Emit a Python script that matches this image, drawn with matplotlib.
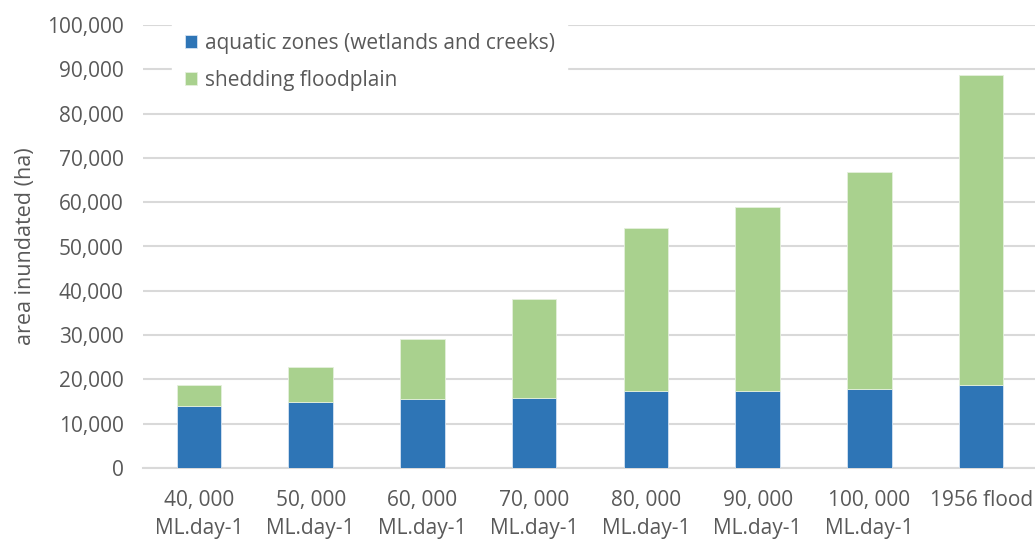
import numpy as np
import matplotlib.pyplot as plt
from matplotlib.ticker import FuncFormatter

# values (ha)
categories = ['40, 000\nML.day-1', '50, 000\nML.day-1', '60, 000\nML.day-1', '70, 000\nML.day-1',
              '80, 000\nML.day-1', '90, 000\nML.day-1', '100, 000\nML.day-1', '1956 flood']
aquatic = [14000, 14800, 15600, 15900, 17400, 17400, 17800, 18700]
floodplain = [4800, 8000, 13500, 22200, 36800, 41500, 49000, 70000]

plt.rcParams['font.family'] = ['Open Sans', 'DejaVu Sans']
txt = '#595959'
grid = '#d9d9d9'

fig = plt.figure(figsize=(10.35, 5.39), dpi=100)
ax = fig.add_axes([143 / 1035, 71 / 539, 894 / 1035, 443 / 539])

x = np.arange(len(categories))
ax.bar(x, aquatic, width=0.4, color='#2e75b6', edgecolor='#d6e4f2', linewidth=0.6,
       label='aquatic zones (wetlands and creeks)', zorder=3)
ax.bar(x, floodplain, bottom=aquatic, width=0.4, color='#a9d18e', edgecolor='#e4f0dc',
       linewidth=0.6, label='shedding floodplain', zorder=3)

ax.set_xlim(-0.5, len(categories) - 0.5)
ax.set_ylim(0, 100000)
ax.set_yticks(np.arange(0, 100001, 10000))
ax.yaxis.set_major_formatter(FuncFormatter(lambda v, p: f'{int(v):,}'))
ax.grid(axis='y', color=grid, linewidth=1.5, zorder=0)
ax.set_axisbelow(True)

ax.set_xticks(x)
ax.set_xticklabels(categories, va='top', linespacing=1.4)
ax.tick_params(axis='both', length=0, colors=txt, labelsize=15)
ax.tick_params(axis='y', pad=14)
ax.tick_params(axis='x', pad=16)

for s in ['top', 'right', 'left']:
    ax.spines[s].set_visible(False)
ax.spines['bottom'].set_color(grid)
ax.spines['bottom'].set_linewidth(1.5)

ax.set_ylabel('area inundated (ha)', color=txt, fontsize=15.5, labelpad=8)

leg = fig.legend(loc='upper left', bbox_to_anchor=(162 / 1035, 1 - 10 / 539), fontsize=15,
                 frameon=True, framealpha=1, edgecolor='white', facecolor='white',
                 handlelength=0.6, handleheight=0.6, handletextpad=0.35, labelspacing=0.78,
                 borderpad=0.6, fancybox=False)
for t in leg.get_texts():
    t.set_color(txt)

fig.savefig('out.png', dpi=100)
